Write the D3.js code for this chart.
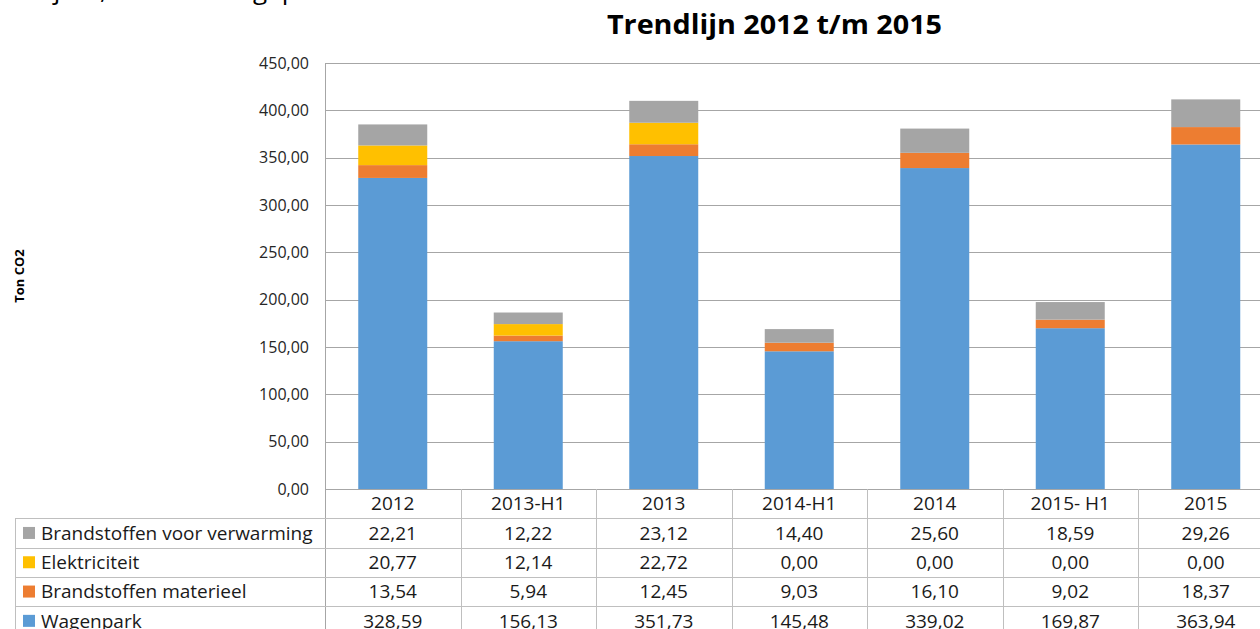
<!DOCTYPE html>
<html>
<head>
<meta charset="utf-8">
<script src="https://cdn.jsdelivr.net/npm/d3@7"></script>
<style>
  html, body { margin: 0; padding: 0; background: #fff; overflow: hidden; }
  svg { display: block; font-family: "Open Sans", "Noto Sans", sans-serif; }
</style>
</head>
<body>
<div id="chart"></div>
<script>
// data
const categories = ["2012", "2013-H1", "2013", "2014-H1", "2014", "2015- H1", "2015"];
const seriesNames = ["Wagenpark", "Brandstoffen materieel", "Elektriciteit", "Brandstoffen voor verwarming"];
const wagenpark   = [328.59, 156.13, 351.73, 145.48, 339.02, 169.87, 363.94];
const materieel   = [13.54, 5.94, 12.45, 9.03, 16.10, 9.02, 18.37];
const elektriciteit = [20.77, 12.14, 22.72, 0.00, 0.00, 0.00, 0.00];
const verwarming  = [22.21, 12.22, 23.12, 14.40, 25.60, 18.59, 29.26];
const yTicks = [0, 50, 100, 150, 200, 250, 300, 350, 400, 450];

const colors = {
  "Wagenpark": "#5B9BD5",
  "Brandstoffen materieel": "#ED7D31",
  "Elektriciteit": "#FFC000",
  "Brandstoffen voor verwarming": "#A5A5A5"
};

const W = 1260, H = 629;
const plotLeft = 325, plotTop = 63, plotBottom = 489;
const colW = 135.5;
const gridColor = "#a6a6a6";
const tableFont = "19px";
const fmt = v => d3.format(".2f")(v).replace(".", ",");

const svg = d3.select("#chart").append("svg")
  .attr("width", W).attr("height", H);

// cut-off text line at the very top (page text above the chart)
svg.append("text")
  .attr("x", -6).attr("y", -1)
  .style("font-size", "26px")
  .style("fill", "#000")
  .text("boekjaar, in de trend gepresenteerd:");

// title
svg.append("text")
  .attr("x", 607).attr("y", 34)
  .attr("textLength", 335)
  .attr("lengthAdjust", "spacingAndGlyphs")
  .style("font-size", "26px")
  .style("font-weight", "700")
  .style("fill", "#000")
  .text("Trendlijn 2012 t/m 2015");

// scales
const x = d3.scaleBand()
  .domain(categories)
  .range([plotLeft, plotLeft + colW * categories.length])
  .paddingInner(0).paddingOuter(0);

const y = d3.scaleLinear().domain([0, 450]).range([plotBottom, plotTop]);

// gridlines
svg.append("g").selectAll("line")
  .data(yTicks)
  .enter().append("line")
  .attr("x1", plotLeft).attr("x2", W)
  .attr("y1", d => Math.round(y(d)) + 0.5).attr("y2", d => Math.round(y(d)) + 0.5)
  .attr("stroke", gridColor).attr("stroke-width", 1);

// y axis labels
const yAxis = d3.axisLeft(y).tickValues(yTicks).tickFormat(fmt).tickSize(0).tickPadding(16);
const yg = svg.append("g").attr("transform", `translate(${plotLeft},0)`).call(yAxis);
yg.select(".domain").remove();
yg.selectAll("text").style("font-size", "16px").style("fill", "#262626").style("font-family", "\"Open Sans\", sans-serif");

// y axis title
svg.append("text")
  .attr("transform", "translate(24,276) rotate(-90)")
  .attr("text-anchor", "middle")
  .style("font-size", "13px")
  .style("font-weight", "700")
  .style("fill", "#000")
  .text("Ton CO2");

// stacked bars
const rows = categories.map((c, i) => ({
  cat: c,
  "Wagenpark": wagenpark[i],
  "Brandstoffen materieel": materieel[i],
  "Elektriciteit": elektriciteit[i],
  "Brandstoffen voor verwarming": verwarming[i]
}));
const stack = d3.stack().keys(seriesNames)(rows);
const barW = 69;

svg.append("g").selectAll("g")
  .data(stack)
  .enter().append("g")
  .attr("fill", d => colors[d.key])
  .selectAll("rect")
  .data(d => d)
  .enter().append("rect")
  .attr("x", d => x(d.data.cat) + (x.bandwidth() - barW) / 2)
  .attr("width", barW)
  .attr("y", d => y(d[1]))
  .attr("height", d => y(d[0]) - y(d[1]));

// plot left border
svg.append("line")
  .attr("x1", plotLeft + 0.5).attr("x2", plotLeft + 0.5)
  .attr("y1", plotTop).attr("y2", H)
  .attr("stroke", gridColor);

// data table
const tableRows = ["header"].concat(seriesNames.slice().reverse());
const rowY = d3.scaleBand().domain(tableRows).range([plotBottom, plotBottom + 29.3 * tableRows.length]);
const tableLeft = 15;
const valuesBySeries = {
  "Wagenpark": wagenpark,
  "Brandstoffen materieel": materieel,
  "Elektriciteit": elektriciteit,
  "Brandstoffen voor verwarming": verwarming
};

const tbl = svg.append("g");
// horizontal lines
tbl.selectAll(".hline")
  .data(tableRows.slice(1))
  .enter().append("line")
  .attr("x1", tableLeft).attr("x2", W)
  .attr("y1", d => Math.round(rowY(d)) + 0.5).attr("y2", d => Math.round(rowY(d)) + 0.5)
  .attr("stroke", "#bfbfbf");
// left border of legend column
tbl.append("line")
  .attr("x1", tableLeft + 0.5).attr("x2", tableLeft + 0.5)
  .attr("y1", rowY(tableRows[1])).attr("y2", H)
  .attr("stroke", "#bfbfbf");
// column separators
tbl.selectAll(".vline")
  .data(categories.slice(1))
  .enter().append("line")
  .attr("x1", d => Math.round(x(d)) + 0.5).attr("x2", d => Math.round(x(d)) + 0.5)
  .attr("y1", plotBottom).attr("y2", H)
  .attr("stroke", "#bfbfbf");

// header labels
tbl.selectAll(".cat")
  .data(categories)
  .enter().append("text")
  .attr("x", d => x(d) + x.bandwidth() / 2)
  .attr("y", rowY("header") + rowY.bandwidth() / 2)
  .attr("dy", "0.35em")
  .attr("text-anchor", "middle")
  .style("font-size", tableFont)
  .style("fill", "#1a1a1a")
  .text(d => d);

// legend cells + values
seriesNames.forEach(name => {
  const cy = rowY(name) + rowY.bandwidth() / 2;
  tbl.append("rect")
    .attr("x", 23).attr("y", cy - 6)
    .attr("width", 12).attr("height", 12)
    .attr("fill", colors[name]);
  tbl.append("text")
    .attr("x", 41).attr("y", cy)
    .attr("dy", "0.35em")
    .style("font-size", tableFont)
    .style("fill", "#1a1a1a")
    .text(name);
  tbl.selectAll(null)
    .data(valuesBySeries[name])
    .enter().append("text")
    .attr("x", (d, i) => x(categories[i]) + x.bandwidth() / 2)
    .attr("y", cy)
    .attr("dy", "0.35em")
    .attr("text-anchor", "middle")
    .style("font-size", tableFont)
    .style("fill", "#1a1a1a")
    .text(d => fmt(d));
});
</script>
</body>
</html>
